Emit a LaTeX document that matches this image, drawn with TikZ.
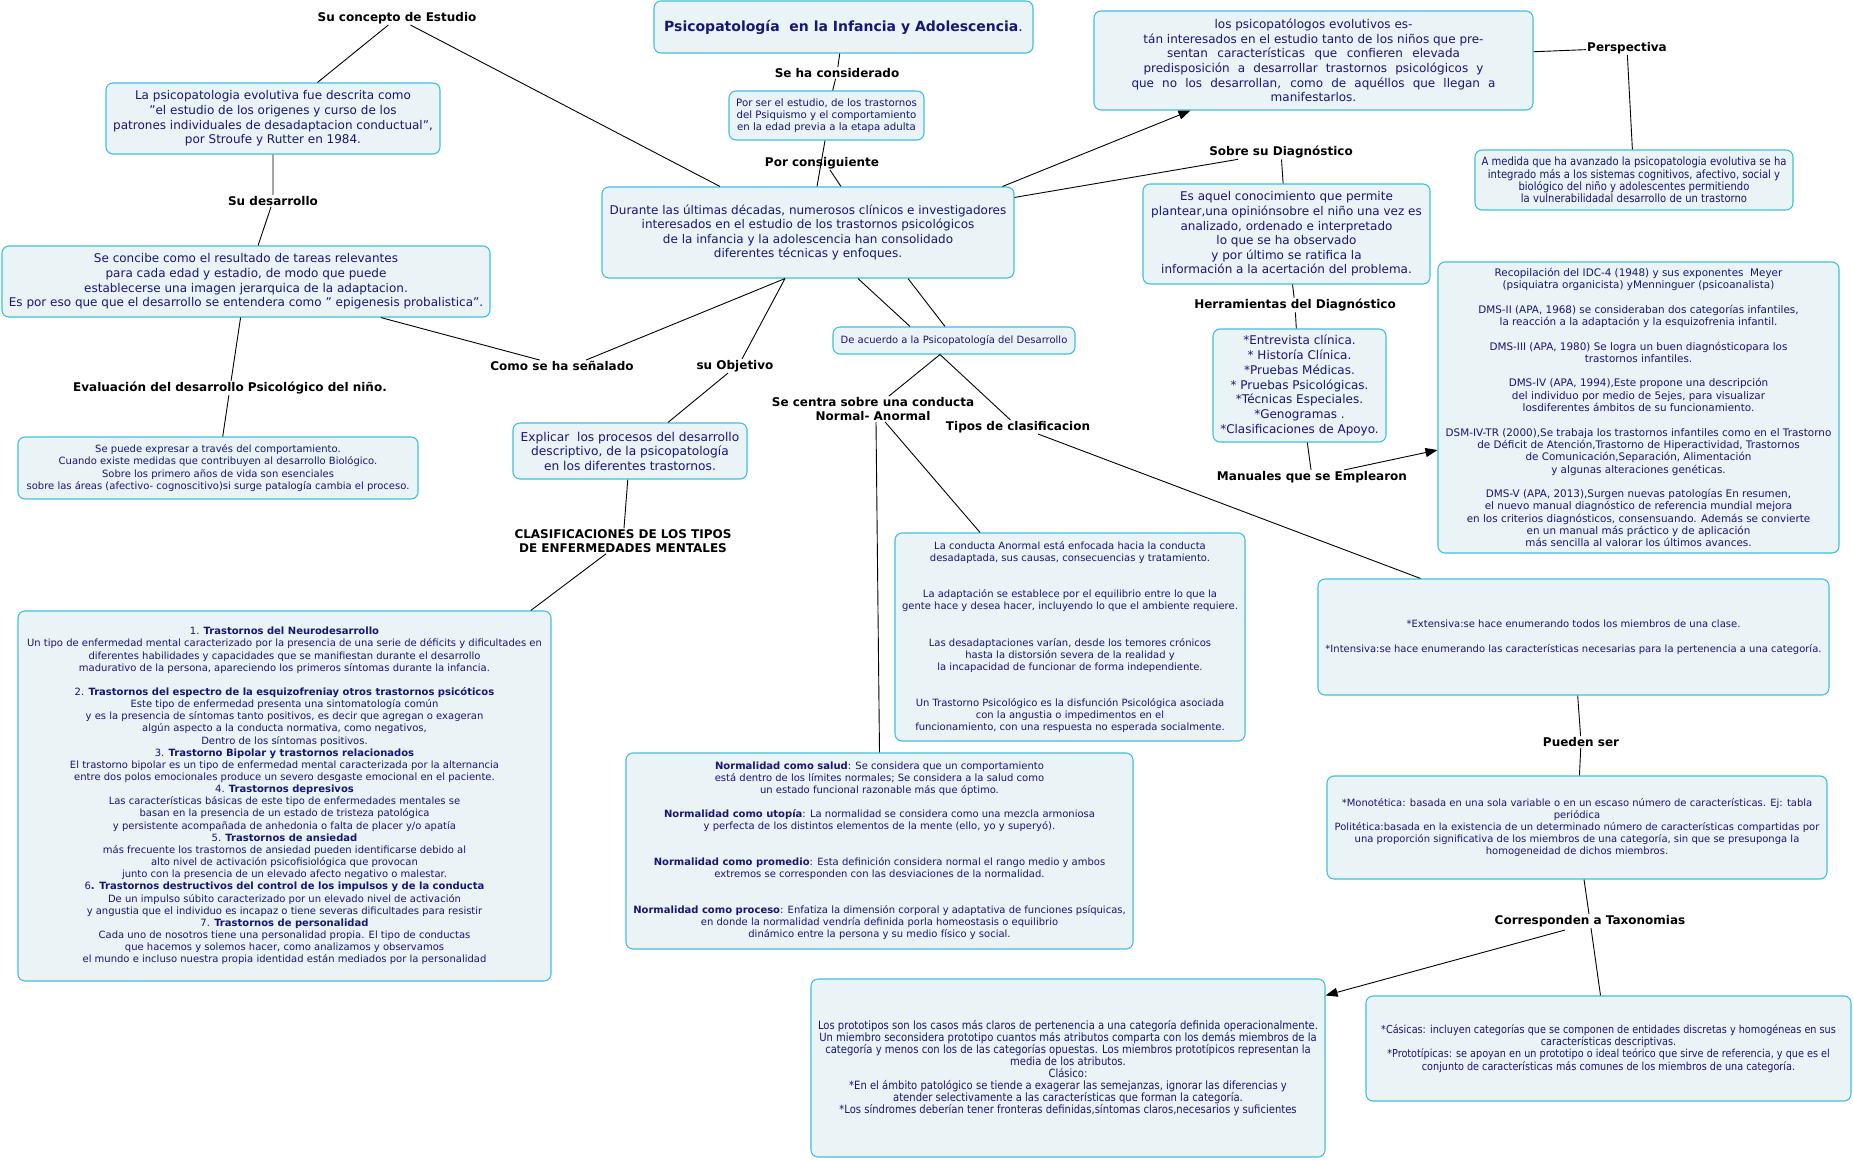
\documentclass[tikz,border=0pt]{standalone}
\usepackage{fontspec}
\setmainfont{DejaVu Sans}
\newfontfamily\condfont{DejaVu Sans}[FakeStretch=0.88]
\usetikzlibrary{arrows.meta,calc}
\definecolor{navy}{RGB}{22,22,120}
\definecolor{boxfill}{RGB}{234,243,245}
\definecolor{boxline}{RGB}{64,192,222}
\tikzset{
 cbox/.style={draw=boxline, fill=boxfill, rounded corners=7pt, line width=1.1pt, align=center, text=navy, inner sep=2pt},
 lbl/.style={font=\bfseries\fontsize{12}{14}\selectfont, text=black, inner sep=1pt, align=center},
 conn/.style={draw=black, line width=0.9pt},
 arr/.style={conn, -{Triangle[length=12pt,width=9pt]}},
 fbig/.style={font=\fontsize{12}{14.6}\selectfont},
 fsmall/.style={font=\fontsize{10}{12.15}\selectfont},
}
\begin{document}
\begin{tikzpicture}[x=1pt,y=-1pt]
\useasboundingbox (0,0) rectangle (1853,1161);
\fill[white] (0,0) rectangle (1853,1161);

% ---------- boxes ----------
\node[cbox, font=\bfseries\fontsize{14}{17}\selectfont, minimum width=379pt, minimum height=52pt] (title) at (843.5,27)
 {Psicopatología\ \ en la Infancia y Adolescencia\mdseries.};

\node[cbox, font=\fontsize{10.2}{12.2}\selectfont, minimum width=195pt, minimum height=49pt] (porser) at (826.5,115.5)
 {Por ser el estudio, de los trastornos\\del Psiquismo y el comportamiento\\en la edad previa a la etapa adulta};

\node[cbox, fbig, minimum width=412pt, minimum height=91pt] (central) at (808,232.5)
 {Durante las últimas décadas, numerosos clínicos e investigadores\\
  interesados en el estudio de los trastornos psicológicos\\
  de la infancia y la adolescencia han consolidado\\
  diferentes técnicas y enfoques.};

\node[cbox, fbig, minimum width=334pt, minimum height=71pt] (lapsico) at (273,118.5)
 {La psicopatologia evolutiva fue descrita como\\
  "el estudio de los origenes y curso de los\\
  patrones individuales de desadaptacion conductual",\\
  por Stroufe y Rutter en 1984.};

\node[cbox, fbig, minimum width=488pt, minimum height=71pt] (concibe) at (246,281.5)
 {Se concibe como el resultado de tareas relevantes\\
  para cada edad y estadio, de modo que puede\\
  establecerse una imagen jerarquica de la adaptacion.\\
  Es por eso que que el desarrollo se entendera como " epigenesis probalistica".};

\node[cbox, fsmall, minimum width=400pt, minimum height=62pt] (sepuede) at (218,468)
 {Se puede expresar a través del comportamiento.\\
  Cuando existe medidas que contribuyen al desarrollo Biológico.\\
  Sobre los primero años de vida son esenciales\\
  sobre las áreas (afectivo- cognoscitivo)si surge patalogía cambia el proceso.};

\node[cbox, font=\fontsize{12.2}{14.5}\selectfont, minimum width=234pt, minimum height=56pt] (explicar) at (630,451)
 {Explicar\ \ los procesos del desarrollo\\descriptivo, de la psicopatología\\en los diferentes trastornos.};

\node[cbox, fsmall, minimum width=533pt, minimum height=370pt] (trastornos) at (284.5,796)
 {1. \textbf{Trastornos del Neurodesarrollo}\\
  Un tipo de enfermedad mental caracterizado por la presencia de una serie de déficits y dificultades en\\
  diferentes habilidades y capacidades que se manifiestan durante el desarrollo\\
  madurativo de la persona, apareciendo los primeros síntomas durante la infancia.\\[12.15pt]
  2. \textbf{Trastornos del espectro de la esquizofreniay otros trastornos psicóticos}\\
  Este tipo de enfermedad presenta una sintomatología común\\
  y es la presencia de síntomas tanto positivos, es decir que agregan o exageran\\
  algún aspecto a la conducta normativa, como negativos,\\
  Dentro de los síntomas positivos.\\
  3. \textbf{Trastorno Bipolar y trastornos relacionados}\\
  El trastorno bipolar es un tipo de enfermedad mental caracterizada por la alternancia\\
  entre dos polos emocionales produce un severo desgaste emocional en el paciente.\\
  4. \textbf{Trastornos depresivos}\\
  Las características básicas de este tipo de enfermedades mentales se\\
  basan en la presencia de un estado de tristeza patológica\\
  y persistente acompañada de anhedonia o falta de placer y/o apatía\\
  5. \textbf{Trastornos de ansiedad}\\
  más frecuente los trastornos de ansiedad pueden identificarse debido al\\
  alto nivel de activación psicofisiológica que provocan\\
  junto con la presencia de un elevado afecto negativo o malestar.\\
  6\textbf{. Trastornos destructivos del control de los impulsos y de la conducta}\\
  De un impulso súbito caracterizado por un elevado nivel de activación\\
  y angustia que el individuo es incapaz o tiene severas dificultades para resistir\\
  7. \textbf{Trastornos de personalidad}\\
  Cada uno de nosotros tiene una personalidad propia. El tipo de conductas\\
  que hacemos y solemos hacer, como analizamos y observamos\\
  el mundo e incluso nuestra propia identidad están mediados por la personalidad};

\node[cbox, font=\fontsize{12}{14.6}\selectfont, minimum width=439pt, minimum height=99pt] (psicopat) at (1313.5,60.5)
 {los psicopatólogos evolutivos es-\\
  tán interesados en el estudio tanto de los niños que pre-\\
  \makebox[293pt][s]{sentan características que confieren elevada}\\
  \makebox[340pt][s]{predisposición a desarrollar trastornos psicológicos y}\\
  \makebox[364pt][s]{que no los desarrollan, como de aquéllos que llegan a}\\
  manifestarlos.};

\node[cbox, font=\condfont\fontsize{11.4}{12.2}\selectfont, minimum width=318pt, minimum height=60pt] (amedida) at (1634,180)
 {A medida que ha avanzado la psicopatologia evolutiva se ha\\
  integrado más a los sistemas cognitivos, afectivo, social y\\
  biológico del niño y adolescentes permitiendo\\
  la vulnerabilidadal desarrollo de un trastorno};

\node[cbox, fbig, minimum width=287pt, minimum height=100pt] (esaquel) at (1286.5,234)
 {Es aquel conocimiento que permite\\
  plantear,una opiniónsobre el niño una vez es\\
  analizado, ordenado e interpretado\\
  lo que se ha observado\\
  y por último se ratifica la\\
  información a la acertación del problema.};

\node[cbox, font=\fontsize{12}{14.7}\selectfont, minimum width=173pt, minimum height=113pt] (herrbox) at (1299.5,385.5)
 {*Entrevista clínica.\\
  {}* Historía Clínica.\\
  {}*Pruebas Médicas.\\
  {}* Pruebas Psicológicas.\\
  {}*Técnicas Especiales.\\
  {}*Genogramas .\\
  {}*Clasificaciones de Apoyo.};

\node[cbox, font=\fontsize{10.4}{12.3}\selectfont, minimum width=401pt, minimum height=291pt] (idc) at (1638.5,407.5)
 {Recopilación del IDC-4 (1948) y sus exponentes\ \ Meyer\\
  (psiquiatra organicista) yMenninguer (psicoanalista)\\[12.3pt]
  DMS-II (APA, 1968) se consideraban dos categorías infantiles,\\
  la reacción a la adaptación y la esquizofrenia infantil.\\[12.3pt]
  DMS-III (APA, 1980) Se logra un buen diagnósticopara los\\
  trastornos infantiles.\\[12.3pt]
  DMS-IV (APA, 1994),Este propone una descripción\\
  del individuo por medio de 5ejes, para visualizar\\
  losdiferentes ámbitos de su funcionamiento.\\[12.3pt]
  DSM-IV-TR (2000),Se trabaja los trastornos infantiles como en el Trastorno\\
  de Déficit de Atención,Trastorno de Hiperactividad, Trastornos\\
  de Comunicación,Separación, Alimentación\\
  y algunas alteraciones genéticas.\\[12.3pt]
  DMS-V (APA, 2013),Surgen nuevas patologías En resumen,\\
  el nuevo manual diagnóstico de referencia mundial mejora\\
  en los criterios diagnósticos, consensuando. Además se convierte\\
  en un manual más práctico y de aplicación\\
  más sencilla al valorar los últimos avances.};

\node[cbox, font=\fontsize{10}{12}\selectfont, minimum width=242pt, minimum height=27pt] (deacuerdo) at (954,340.5)
 {De acuerdo a la Psicopatología del Desarrollo};

\node[cbox, font=\fontsize{10}{12.1}\selectfont, minimum width=350pt, minimum height=208pt] (anormal) at (1070,637)
 {La conducta Anormal está enfocada hacia la conducta\\
  desadaptada, sus causas, consecuencias y tratamiento.\\[24.2pt]
  La adaptación se establece por el equilibrio entre lo que la\\
  gente hace y desea hacer, incluyendo lo que el ambiente requiere.\\[24.2pt]
  Las desadaptaciones varían, desde los temores crónicos\\
  hasta la distorsión severa de la realidad y\\
  la incapacidad de funcionar de forma independiente.\\[24.2pt]
  Un Trastorno Psicológico es la disfunción Psicológica asociada\\
  con la angustia o impedimentos en el\\
  funcionamiento, con una respuesta no esperada socialmente.};

\node[cbox, font=\fontsize{10}{12}\selectfont, minimum width=507pt, minimum height=196pt] (normalidad) at (879.5,851)
 {\textbf{Normalidad como salud}: Se considera que un comportamiento\\
  está dentro de los límites normales; Se considera a la salud como\\
  un estado funcional razonable más que óptimo.\\[12pt]
  \textbf{Normalidad como utopía}: La normalidad se considera como una mezcla armoniosa\\
  y perfecta de los distintos elementos de la mente (ello, yo y superyó).\\[24pt]
  \textbf{Normalidad como promedio}: Esta definición considera normal el rango medio y ambos\\
  extremos se corresponden con las desviaciones de la normalidad.\\[24pt]
  \textbf{Normalidad como proceso}: Enfatiza la dimensión corporal y adaptativa de funciones psíquicas,\\
  en donde la normalidad vendría definida porla homeostasis o equilibrio\\
  dinámico entre la persona y su medio físico y social.};

\node[cbox, font=\fontsize{10}{12.3}\selectfont, minimum width=511pt, minimum height=116pt] (extensiva) at (1573.5,637)
 {*Extensiva:se hace enumerando todos los miembros de una clase.\\[12.3pt]
  {}*Intensiva:se hace enumerando las características necesarias para la pertenencia a una categoría.};

\node[cbox, font=\fontsize{10}{12}\selectfont, minimum width=500pt, minimum height=103pt] (monotetica) at (1577,827.5)
 {*Monotética: basada en una sola variable o en un escaso número de características. Ej: tabla\\
  periódica\\
  Politética:basada en la existencia de un determinado número de características compartidas por\\
  una proporción significativa de los miembros de una categoría, sin que se presuponga la\\
  homogeneidad de dichos miembros.};

\node[cbox, font=\condfont\fontsize{11.4}{12.1}\selectfont, minimum width=514pt, minimum height=178pt] (prototipos) at (1068,1068)
 {Los prototipos son los casos más claros de pertenencia a una categoría definida operacionalmente.\\
  Un miembro seconsidera prototipo cuantos más atributos comparta con los demás miembros de la\\
  categoría y menos con los de las categorías opuestas. Los miembros prototípicos representan la\\
  media de los atributos.\\
  Clásico:\\
  {}*En el ámbito patológico se tiende a exagerar las semejanzas, ignorar las diferencias y\\
  atender selectivamente a las características que forman la categoría.\\
  {}*Los síndromes deberían tener fronteras definidas,síntomas claros,necesarios y suficientes};

\node[cbox, font=\condfont\fontsize{11}{12.2}\selectfont, minimum width=485pt, minimum height=105pt] (clasicas) at (1608.5,1048.5)
 {*Cásicas: incluyen categorías que se componen de entidades discretas y homogéneas en sus\\
  características descriptivas.\\
  {}*Prototípicas: se apoyan en un prototipo o ideal teórico que sirve de referencia, y que es el\\
  conjunto de características más comunes de los miembros de una categoría.};

% ---------- labels ----------
\node[lbl] (concepto) at (397,18) {Su concepto de Estudio};
\node[lbl] (considerado) at (837,73) {Se ha considerado};
\node[lbl] (porcons) at (822,163) {Por consiguiente};
\node[lbl] (desarrollo) at (273,201) {Su desarrollo};
\node[lbl] (evaluacion) at (230,388) {Evaluación del desarrollo Psicológico del niño.};
\node[lbl] (senalado) at (562,366) {Como se ha señalado};
\node[lbl] (objetivo) at (735,366) {su Objetivo};
\node[lbl] (clasif) at (623,541) {CLASIFICACIONES DE LOS TIPOS\\DE ENFERMEDADES MENTALES};
\node[lbl] (perspectiva) at (1627,48) {Perspectiva};
\node[lbl] (sobre) at (1281,152) {Sobre su Diagnóstico};
\node[lbl] (herramientas) at (1295,305) {Herramientas del Diagnóstico};
\node[lbl] (manuales) at (1312,477) {Manuales que se Emplearon};
\node[lbl] (secentra) at (873,409) {Se centra sobre una conducta\\Normal- Anormal};
\node[lbl] (tipos) at (1018,427) {Tipos de clasificacion};
\node[lbl] (pueden) at (1581,742) {Pueden ser};
\node[lbl] (corresponden) at (1590,921) {Corresponden a Taxonomias};

% ---------- connectors ----------
\draw[conn] (concepto) -- (lapsico);
\draw[conn] (concepto) -- (central);
\draw[conn] (lapsico) -- (desarrollo) -- (concibe);
\draw[conn] (concibe) -- (evaluacion) -- (sepuede);
\draw[conn] (concibe) -- (senalado);
\draw[conn] ($(senalado.north)+(24,0)$) -- ($(central.south)+(-23,0)$);
\draw[conn] ($(central.south)+(-23,0)$) -- ($(objetivo.north)+(7,0)$);
\draw[conn] ($(objetivo.south)+(-7,0)$) -- ($(explicar.north)+(38,0)$);
\draw[conn] (explicar) -- (clasif) -- (trastornos);
\draw[conn] (title) -- (considerado) -- (porser);
\draw[conn] ($(porser.south)+(-1.5,0)$) -- ($(central.north)+(9,0)$);
\draw[conn] ($(porcons.south)+(8,0)$) -- ($(central.north)+(33,0)$);
\draw[arr] ($(central.north east)+(-12,0)$) -- ($(psicopat.south west)+(97,0)$);
\draw[conn] (psicopat) -- (perspectiva) -- (amedida);
\draw[conn] (central) -- (sobre) -- (esaquel);
\draw[conn] (esaquel) -- (herramientas) -- (herrbox);
\draw[conn] (herrbox) -- (manuales);
\draw[arr] ($(manuales.north)+(32,0)$) -- ($(idc.west)+(0,42.5)$);
\draw[conn] ($(central.south)+(50,0)$) -- ($(deacuerdo.north)+(-44,0)$);
\draw[conn] ($(central.south)+(100,0)$) -- ($(deacuerdo.north)+(-9,0)$);
\draw[conn] ($(deacuerdo.south)+(-14,0)$) -- (secentra);
\draw[conn] ($(deacuerdo.south)+(-14,0)$) -- (tipos);
\draw[conn] ($(secentra.south)+(3,0)$) -- ($(normalidad.north)+(0,0)$);
\draw[conn] ($(secentra.south)+(12,0)$) -- ($(anormal.north)+(-90,0)$);
\draw[conn] ($(tipos.south)+(20,0)$) -- ($(extensiva.north)+(-153,0)$);
\draw[conn] (extensiva) -- (pueden) -- (monotetica);
\draw[conn] ($(monotetica.south)+(7,0)$) -- (corresponden) -- ($(clasicas.north)+(-8,0)$);
\draw[arr] ($(corresponden.south)+(-25,2)$) -- ($(prototipos.north east)+(0,17)$);
\end{tikzpicture}
\end{document}
